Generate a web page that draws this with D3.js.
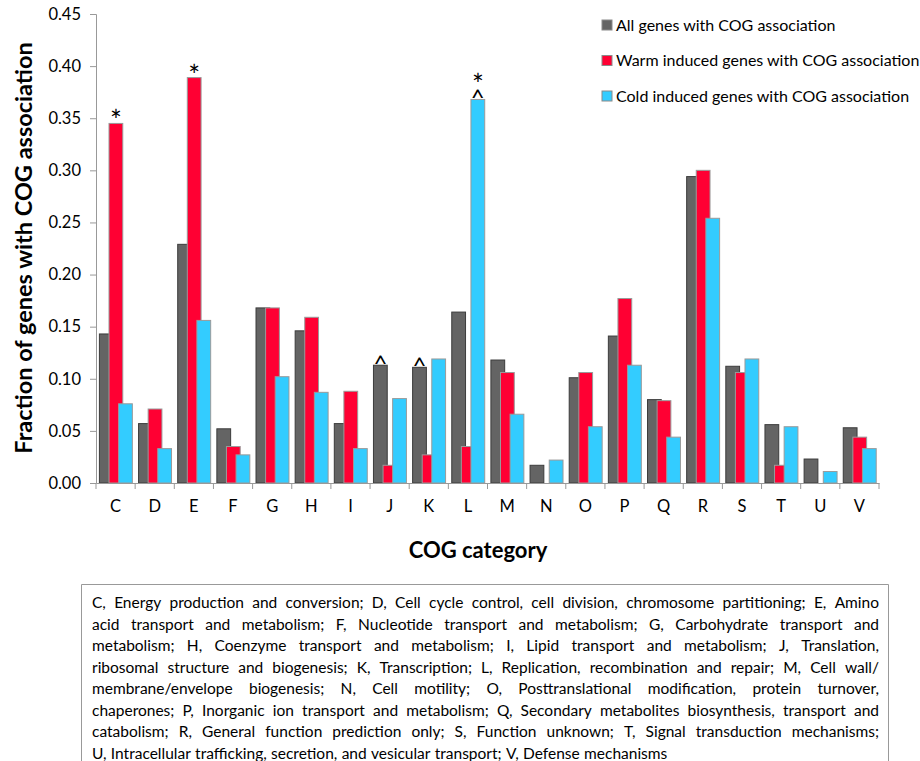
<!DOCTYPE html>
<html>
<head>
<meta charset="utf-8">
<script src="https://cdn.jsdelivr.net/npm/d3@7"></script>
<style>
  body { margin: 0; background: #fff; }
  text { font-family: Lato, "Open Sans", sans-serif; fill: #000; }
</style>
</head>
<body>
<div id="chart"></div>
<script>
const WIDTH = 920;
const HEIGHT = 761;

// data
const categories = ['C','D','E','F','G','H','I','J','K','L','M','N','O','P','Q','R','S','T','U','V'];
const allGenes  = [0.143, 0.057, 0.229, 0.052, 0.168, 0.146, 0.057, 0.113, 0.111, 0.164, 0.118, 0.017, 0.101, 0.141, 0.080, 0.294, 0.112, 0.056, 0.023, 0.053];
const warmGenes = [0.345, 0.071, 0.389, 0.035, 0.168, 0.159, 0.088, 0.017, 0.027, 0.035, 0.106, 0.000, 0.106, 0.177, 0.079, 0.300, 0.106, 0.017, 0.000, 0.044];
const coldGenes = [0.076, 0.033, 0.156, 0.027, 0.102, 0.087, 0.033, 0.081, 0.119, 0.368, 0.066, 0.022, 0.054, 0.113, 0.044, 0.254, 0.119, 0.054, 0.011, 0.033];
const seriesNames = ['All genes with COG association', 'Warm induced genes with COG association', 'Cold induced genes with COG association'];
const seriesColors = ['#646464', '#ff0033', '#33ccff'];
const seriesStrokes = ['#3c3c3c', '#9a9a9a', '#9a9a9a'];
const yTicks = [0, 0.05, 0.10, 0.15, 0.20, 0.25, 0.30, 0.35, 0.40, 0.45];
// [category, series index, symbol, stack level]
const marks = [['C', 1, '*', 0], ['E', 1, '*', 0], ['J', 0, '^', 0], ['K', 0, '^', 0], ['L', 2, '^', 0], ['L', 2, '*', 1]];
const legendLines = [
  'C,  Energy production and conversion; D, Cell cycle control, cell division, chromosome partitioning; E, Amino',
  'acid transport and metabolism; F, Nucleotide transport and metabolism; G, Carbohydrate transport and',
  'metabolism; H, Coenzyme transport and metabolism; I, Lipid transport and metabolism; J, Translation,',
  'ribosomal structure and biogenesis; K, Transcription; L, Replication, recombination and repair; M, Cell wall/',
  'membrane/envelope biogenesis; N, Cell motility; O, Posttranslational modification, protein turnover,',
  'chaperones; P, Inorganic ion transport and metabolism; Q, Secondary metabolites biosynthesis, transport and',
  'catabolism; R, General function prediction only; S, Function unknown; T, Signal transduction mechanisms;',
  'U, Intracellular trafficking, secretion, and vesicular transport; V, Defense mechanisms'
];

const series = [allGenes, warmGenes, coldGenes];

const svg = d3.select('#chart').append('svg')
    .attr('width', WIDTH).attr('height', HEIGHT);

const x = d3.scaleBand().domain(categories).range([96, 879]).padding(0);
const y = d3.scaleLinear().domain([0, 0.45]).range([483, 14]);
const bw = x.bandwidth();
const sub = d3.scaleLinear().domain([0, 2]).range([bw * 0.087, bw * 0.577]);
const barW = bw * 0.352;

// y axis
const yAxis = svg.append('g').attr('transform', 'translate(96,0)')
    .call(d3.axisLeft(y).tickValues(yTicks).tickFormat(d3.format('.2f')).tickSize(6).tickPadding(9));
yAxis.selectAll('path, line').attr('stroke', '#999');
yAxis.selectAll('text').attr('font-size', 16.5).attr('font-family', 'Lato');

// bars, series by series so the later one sits on top
series.forEach((vals, s) => {
  svg.append('g').selectAll('rect').data(vals).join('rect')
      .attr('x', (d, i) => x(categories[i]) + sub(s))
      .attr('y', d => y(d))
      .attr('width', barW)
      .attr('height', d => y(0) - y(d))
      .attr('fill', seriesColors[s])
      .attr('stroke', d => d > 0 ? seriesStrokes[s] : 'none')
      .attr('stroke-width', 1);
});

// x axis
const xAxis = svg.append('g').attr('transform', 'translate(0,483)')
    .call(d3.axisBottom(x).tickSize(0).tickPadding(17));
xAxis.select('.domain').attr('stroke', '#999');
xAxis.selectAll('text').attr('font-size', 16.5).attr('font-family', 'Lato');
svg.append('g').selectAll('line').data(categories.concat(['end'])).join('line')
    .attr('x1', d => d === 'end' ? x.range()[1] : x(d))
    .attr('x2', d => d === 'end' ? x.range()[1] : x(d))
    .attr('y1', 483).attr('y2', 489)
    .attr('stroke', '#999');

// significance marks
svg.append('g').selectAll('text').data(marks).join('text')
    .attr('x', d => x(d[0]) + sub(d[1]) + barW / 2)
    .attr('y', d => {
      const v = series[d[1]][categories.indexOf(d[0])];
      return d[2] === '*' ? y(v) + 8 - d[3] * 12 : y(v) + 7;
    })
    .attr('text-anchor', 'middle')
    .attr('font-size', d => d[2] === '*' ? 28 : 24)
    .text(d => d[2]);

// axis titles
svg.append('text')
    .attr('transform', 'translate(32,248) rotate(-90)')
    .attr('text-anchor', 'middle')
    .attr('font-size', 23.5).attr('font-weight', 'bold')
    .text('Fraction of genes with COG association');

svg.append('text')
    .attr('x', 478).attr('y', 558)
    .attr('text-anchor', 'middle')
    .attr('font-size', 22).attr('font-weight', 'bold')
    .text('COG category');

// legend
const leg = svg.append('g').selectAll('g').data(seriesNames).join('g')
    .attr('transform', (d, i) => `translate(602, ${20 + i * 35.5})`);
leg.append('rect').attr('width', 10).attr('height', 10)
    .attr('fill', (d, i) => seriesColors[i])
    .attr('stroke', '#8a8a8a');
leg.append('text').attr('x', 14).attr('y', 10.5)
    .attr('font-size', 16)
    .text(d => d);

// description box
svg.append('path')
    .attr('d', 'M81.5,762 V584.5 H888.5 V762')
    .attr('fill', 'none').attr('stroke', '#999');

const left = 92, right = 879;
legendLines.forEach((line, li) => {
  const by = 608 + li * 21.5;
  const words = line.split(/ +/);
  const g = svg.append('g');
  const nodes = words.map(w => g.append('text').attr('y', by).style('font-size', '15.5px').text(w));
  const widths = nodes.map(n => n.node().getComputedTextLength());
  const total = d3.sum(widths);
  const last = li === legendLines.length - 1;
  const gap = last ? 4.3 : (right - left - total) / (words.length - 1);
  let cx = left;
  nodes.forEach((n, i) => { n.attr('x', cx); cx += widths[i] + gap; });
});
</script>
</body>
</html>
